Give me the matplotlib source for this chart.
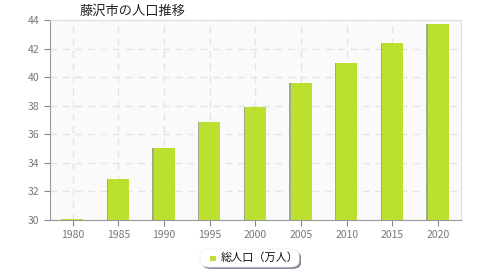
import matplotlib
matplotlib.use("Agg")
import matplotlib.pyplot as plt
from matplotlib.patches import FancyBboxPatch

plt.rcParams['font.family'] = ['Noto Sans CJK JP', 'DejaVu Sans']

years = ["1980", "1985", "1990", "1995", "2000", "2005", "2010", "2015", "2020"]
population = [30.1, 32.84, 35.03, 36.87, 37.92, 39.60, 40.97, 42.39, 43.69]
yticks = [30, 32, 34, 36, 38, 40, 42, 44]

fig = plt.figure(figsize=(4.8, 2.8), dpi=100)
ax = fig.add_axes([50/480, 60/280, 411/480, 200/280])
ax.set_facecolor("#fafafa")

x = list(range(len(years)))
# faint shadow then bar
ax.bar([i - 0.02 for i in x], [p - 30 for p in population], bottom=30, width=0.48,
       color="#a0a890", zorder=2)
ax.bar(x, [p - 30 for p in population], bottom=30, width=0.46,
       color="#bce030", zorder=3)

ax.set_xlim(-0.5, len(years) - 0.5)
ax.set_ylim(30, 44)
ax.set_yticks(yticks)
ax.set_xticks(x)
ax.set_xticklabels(years)
ax.grid(True, color="#e4e4e4", linestyle=(0, (5, 4)), linewidth=1, zorder=0)
ax.tick_params(colors="#888888", labelcolor="#777777", labelsize=7.5, length=4)
for s in ["left", "bottom"]:
    ax.spines[s].set_color("#999999")
for s in ["top", "right"]:
    ax.spines[s].set_color("#dddddd")

fig.text(80/480, 1 - 11/280, "藤沢市の人口推移", fontsize=9.5, va="center", ha="left", color="#222222")

# legend box
sh = FancyBboxPatch((202/480, 11/280), 99/480, 18/280, boxstyle="round,pad=0,rounding_size=0.02",
                    transform=fig.transFigure, facecolor="#8a8a99", edgecolor="none", zorder=1)
box = FancyBboxPatch((200/480, 13/280), 99/480, 18/280, boxstyle="round,pad=0,rounding_size=0.02",
                     transform=fig.transFigure, facecolor="white", edgecolor="#f0f0f0", linewidth=0.6, zorder=2)
fig.patches.extend([sh, box])
fig.patches.append(plt.Rectangle((210/480, 19/280), 5.5/480, 5.5/280, transform=fig.transFigure,
                                 facecolor="#bce030", edgecolor="none", zorder=3))
fig.text(221/480, 22/280, "総人口（万人）", fontsize=8, va="center", ha="left", color="#111111", zorder=4)

fig.savefig("out.png", dpi=100)
